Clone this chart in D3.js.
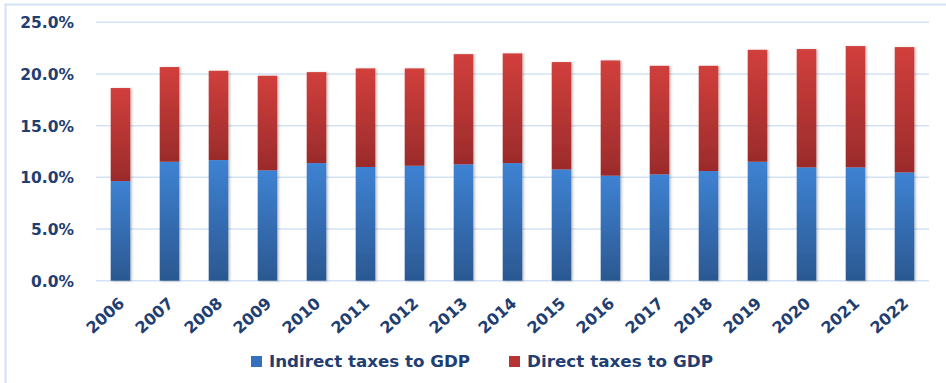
<!DOCTYPE html>
<html>
<head>
<meta charset="utf-8">
<script src="https://cdn.jsdelivr.net/npm/d3@7"></script>
<style>
  html, body { margin: 0; padding: 0; background: #fff; }
  svg { display: block; }
  text { font-family: "DejaVu Sans", Verdana, sans-serif; font-weight: bold; fill: #1f3e71; }
</style>
</head>
<body>
<svg id="chart" width="946" height="383"></svg>
<script>
// Tax revenue as a share of GDP, by year (percent)
const years = ["2006","2007","2008","2009","2010","2011","2012","2013","2014","2015","2016","2017","2018","2019","2020","2021","2022"];
const indirectTaxes = [9.64, 11.51, 11.67, 10.68, 11.38, 11.00, 11.12, 11.26, 11.38, 10.77, 10.16, 10.29, 10.61, 11.51, 10.97, 10.97, 10.48];
const directTaxes   = [9.00, 9.16, 8.64, 9.15, 8.80, 9.54, 9.42, 10.66, 10.61, 10.38, 11.15, 10.50, 10.18, 10.83, 11.44, 11.73, 12.12];
const yTicks = [0, 5, 10, 15, 20, 25];
const seriesNames = ["Indirect taxes to GDP", "Direct taxes to GDP"];

const svg = d3.select("#chart");
const W = 946, H = 383;
const plot = { left: 96, right: 929, top: 22.3, bottom: 280.7 };

// Outer frame (left and top edges visible)
svg.append("path")
  .attr("d", `M5.5,${H} L5.5,4.5 L${W},4.5`)
  .attr("fill", "none").attr("stroke", "#d3e2f4").attr("stroke-width", 2);

const defs = svg.append("defs");
function vGrad(id, top, bottom) {
  const g = defs.append("linearGradient").attr("id", id)
    .attr("x1", 0).attr("y1", 0).attr("x2", 0).attr("y2", 1);
  g.append("stop").attr("offset", "0%").attr("stop-color", top);
  g.append("stop").attr("offset", "100%").attr("stop-color", bottom);
}
vGrad("gBlue", "#3e82d3", "#2b5891");
vGrad("gRed", "#d13f3c", "#9b2b2b");
const sh = defs.append("filter").attr("id", "shadow")
  .attr("x", "-20%").attr("y", "-5%").attr("width", "150%").attr("height", "115%");
sh.append("feDropShadow").attr("dx", 1.5).attr("dy", 0.5).attr("stdDeviation", 1)
  .attr("flood-color", "#000").attr("flood-opacity", 0.25);

const x = d3.scaleBand().domain(years).range([plot.left, plot.right]).paddingInner(0.6).paddingOuter(0.3);
const y = d3.scaleLinear().domain([0, 25]).range([plot.bottom, plot.top]);

// Horizontal gridlines
svg.append("g").selectAll("line").data(yTicks).join("line")
  .attr("x1", plot.left).attr("x2", plot.right)
  .attr("y1", d => y(d)).attr("y2", d => y(d))
  .attr("stroke", "#d3e2f4").attr("stroke-width", 1.5);

// Y axis labels
const yAxis = svg.append("g").attr("transform", `translate(${plot.left},0)`)
  .call(d3.axisLeft(y).tickValues(yTicks).tickFormat(d => d3.format(".1f")(d) + "%").tickSize(0).tickPadding(22));
yAxis.select(".domain").remove();
yAxis.selectAll("text").attr("font-size", 15.5).attr("fill", "#1f3e71")
  .attr("font-family", "DejaVu Sans").attr("font-weight", "bold").attr("dy", "0.35em");

// Stacked bars
const rows = years.map((yr, i) => ({ year: yr, indirect: indirectTaxes[i], direct: directTaxes[i] }));
const stack = d3.stack().keys(["indirect", "direct"])(rows);
const fills = ["url(#gBlue)", "url(#gRed)"];
const barG = svg.append("g").attr("filter", "url(#shadow)");
stack.forEach((layer, li) => {
  barG.append("g").selectAll("rect").data(layer).join("rect")
    .attr("x", d => x(d.data.year))
    .attr("width", x.bandwidth())
    .attr("y", d => y(d[1]))
    .attr("height", d => y(d[0]) - y(d[1]))
    .attr("fill", fills[li]);
});

// X axis labels, rotated
const xAxis = svg.append("g").attr("transform", `translate(0,${plot.bottom})`)
  .call(d3.axisBottom(x).tickSize(0).tickPadding(0));
xAxis.select(".domain").remove();
xAxis.selectAll("text")
  .attr("font-size", 16).attr("fill", "#1f3e71")
  .attr("font-family", "DejaVu Sans").attr("font-weight", "bold")
  .attr("text-anchor", "end").attr("dy", 0)
  .attr("transform", "translate(5,24) rotate(-42)");

// Legend
const legend = [
  { name: seriesNames[0], color: "#3470bb", sx: 251, tx: 269, tw: 201 },
  { name: seriesNames[1], color: "#b83433", sx: 509, tx: 527, tw: 186 }
];
const lg = svg.append("g");
legend.forEach(d => {
  lg.append("rect").attr("x", d.sx).attr("y", 356).attr("width", 11).attr("height", 11).attr("fill", d.color);
  lg.append("text").attr("x", d.tx).attr("y", 367).attr("font-size", 16)
    .attr("textLength", d.tw).attr("lengthAdjust", "spacingAndGlyphs").text(d.name);
});
</script>
</body>
</html>
